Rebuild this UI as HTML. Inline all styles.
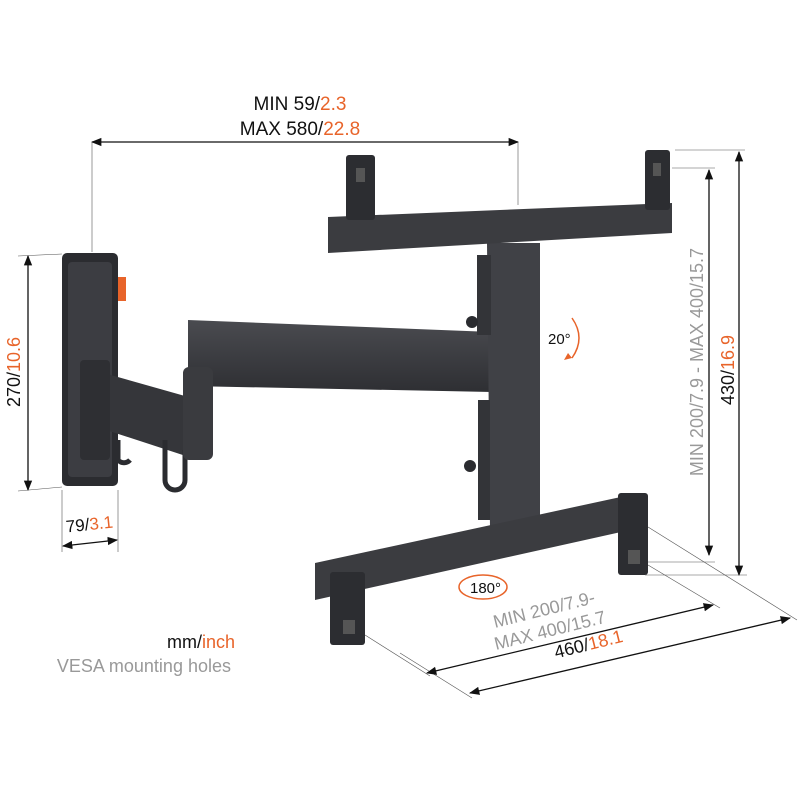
<!DOCTYPE html>
<html><head><meta charset="utf-8"><style>
html,body{margin:0;padding:0;background:#fff;}
svg{display:block;font-family:"Liberation Sans",sans-serif;}
</style></head><body>
<svg width="800" height="800" viewBox="0 0 800 800" xmlns="http://www.w3.org/2000/svg">
<defs>
<marker id="a" viewBox="0 0 10 10" refX="9" refY="5" markerWidth="8" markerHeight="8" orient="auto-start-reverse"><path d="M0,1 L10,5 L0,9 z" fill="#111"/></marker>
<linearGradient id="g" x1="0" y1="0" x2="0" y2="1"><stop offset="0" stop-color="#4a4b50"/><stop offset="1" stop-color="#2e2f33"/></linearGradient>
</defs>
<!-- top text -->
<text x="300" y="110" font-size="19" text-anchor="middle" fill="#111">MIN 59/<tspan fill="#e8642a">2.3</tspan></text>
<text x="300" y="135" font-size="19" text-anchor="middle" fill="#111">MAX 580/<tspan fill="#e8642a">22.8</tspan></text>
<line x1="92" y1="142" x2="518" y2="142" stroke="#111" stroke-width="1.3" marker-start="url(#a)" marker-end="url(#a)"/>
<line x1="92" y1="142" x2="92" y2="252" stroke="#555" stroke-width="0.6"/>
<line x1="518" y1="142" x2="518" y2="205" stroke="#555" stroke-width="0.6"/>

<!-- wall plate -->
<rect x="62" y="253" width="56" height="233" rx="5" fill="#2b2c30"/>
<rect x="68" y="262" width="44" height="215" rx="4" fill="#3c3d42"/>
<rect x="118" y="277" width="8" height="24" fill="#e8642a"/>
<!-- small arm -->
<polygon points="100,372 192,398 192,458 100,428" fill="#35363a"/>
<rect x="80" y="360" width="30" height="100" rx="4" fill="#2e2f33"/>
<path d="M165,440 v40 a10,10 0 0 0 20,0 v-30" fill="none" stroke="#2b2c30" stroke-width="5"/>
<path d="M118,440 v20 a8,8 0 0 0 12,0" fill="none" stroke="#2b2c30" stroke-width="5"/>
<!-- main arm -->
<polygon points="188,320 492,332 492,392 188,386" fill="url(#g)"/>
<rect x="183" y="367" width="30" height="93" rx="6" fill="#3a3b3f"/>
<!-- column -->
<polygon points="487,243 540,243 540,528 490,528" fill="#404146"/>
<rect x="477" y="255" width="14" height="80" fill="#333438"/>
<rect x="478" y="400" width="12" height="120" fill="#333438"/>
<circle cx="472" cy="322" r="6" fill="#2b2c30"/>
<circle cx="470" cy="466" r="6" fill="#2b2c30"/>
<!-- top bar -->
<polygon points="328,217 672,203 672,233 328,253" fill="#3b3c40"/>
<rect x="346" y="155" width="29" height="65" rx="3" fill="#2c2d31"/>
<rect x="356" y="168" width="9" height="14" fill="#555"/>
<rect x="645" y="150" width="25" height="60" rx="3" fill="#2c2d31"/>
<rect x="653" y="163" width="8" height="13" fill="#555"/>
<!-- bottom bar -->
<polygon points="315,563 630,495 630,530 315,600" fill="#3b3c40"/>
<rect x="618" y="493" width="30" height="82" rx="3" fill="#2c2d31"/>
<rect x="628" y="550" width="12" height="14" fill="#555"/>
<rect x="330" y="572" width="35" height="73" rx="3" fill="#2c2d31"/>
<rect x="343" y="620" width="12" height="14" fill="#555"/>

<!-- 20 deg -->
<text x="548" y="344" font-size="15" fill="#111">20°</text>
<path d="M572,318 q14,20 0,40" fill="none" stroke="#e8642a" stroke-width="1.5"/>
<path d="M572,358 l-8,2 l4,-7z" fill="#e8642a"/>
<!-- 180 deg -->
<ellipse cx="483" cy="587" rx="24" ry="12" fill="none" stroke="#e8642a" stroke-width="1.5"/>
<text x="470" y="593" font-size="15" fill="#111">180°</text>

<!-- left dims -->
<line x1="28" y1="256" x2="28" y2="490" stroke="#111" stroke-width="1.3" marker-start="url(#a)" marker-end="url(#a)"/>
<line x1="18" y1="256" x2="62" y2="254" stroke="#555" stroke-width="0.6"/>
<line x1="18" y1="491" x2="62" y2="487" stroke="#555" stroke-width="0.6"/>
<text transform="translate(20,372) rotate(-90)" font-size="18" text-anchor="middle" fill="#111">270/<tspan fill="#e8642a">10.6</tspan></text>
<line x1="62" y1="490" x2="62" y2="552" stroke="#555" stroke-width="0.6"/>
<line x1="118" y1="490" x2="118" y2="552" stroke="#555" stroke-width="0.6"/>
<line x1="63" y1="546" x2="117" y2="540" stroke="#111" stroke-width="1.3" marker-start="url(#a)" marker-end="url(#a)"/>
<text transform="translate(90,530) rotate(-6)" font-size="17" text-anchor="middle" fill="#111">79/<tspan fill="#e8642a">3.1</tspan></text>

<!-- right dims -->
<line x1="675" y1="150" x2="745" y2="150" stroke="#555" stroke-width="0.6"/>
<line x1="672" y1="168" x2="715" y2="168" stroke="#555" stroke-width="0.6"/>
<line x1="709" y1="170" x2="709" y2="555" stroke="#111" stroke-width="1.3" marker-start="url(#a)" marker-end="url(#a)"/>
<line x1="739" y1="152" x2="739" y2="575" stroke="#111" stroke-width="1.3" marker-start="url(#a)" marker-end="url(#a)"/>
<line x1="648" y1="562" x2="715" y2="562" stroke="#555" stroke-width="0.6"/>
<line x1="645" y1="575" x2="747" y2="575" stroke="#555" stroke-width="0.6"/>
<text transform="translate(703,362) rotate(-90)" font-size="18" text-anchor="middle" fill="#999">MIN 200/7.9 - MAX 400/15.7</text>
<text transform="translate(734,370) rotate(-90)" font-size="18" text-anchor="middle" fill="#111">430/<tspan fill="#e8642a">16.9</tspan></text>

<!-- bottom diagonal dims -->
<line x1="648" y1="527" x2="797" y2="620" stroke="#555" stroke-width="0.6"/>
<line x1="648" y1="565" x2="720" y2="608" stroke="#555" stroke-width="0.6"/>
<line x1="365" y1="635" x2="430" y2="676" stroke="#555" stroke-width="0.6"/>
<line x1="400" y1="653" x2="472" y2="698" stroke="#555" stroke-width="0.6"/>
<line x1="427" y1="673" x2="713" y2="605" stroke="#111" stroke-width="1.3" marker-start="url(#a)" marker-end="url(#a)"/>
<line x1="470" y1="693" x2="790" y2="618" stroke="#111" stroke-width="1.3" marker-start="url(#a)" marker-end="url(#a)"/>
<text transform="translate(495,628) rotate(-14)" font-size="18" fill="#999">MIN 200/7.9-</text>
<text transform="translate(496,650) rotate(-14)" font-size="18" fill="#999">MAX 400/15.7</text>
<text transform="translate(590,650) rotate(-14)" font-size="18" text-anchor="middle" fill="#111">460/<tspan fill="#e8642a">18.1</tspan></text>

<!-- legend -->
<text x="235" y="648" font-size="18" text-anchor="end" fill="#111">mm/<tspan fill="#e8642a">inch</tspan></text>
<text x="231" y="672" font-size="18" text-anchor="end" fill="#999">VESA mounting holes</text>
</svg>
</body></html>
